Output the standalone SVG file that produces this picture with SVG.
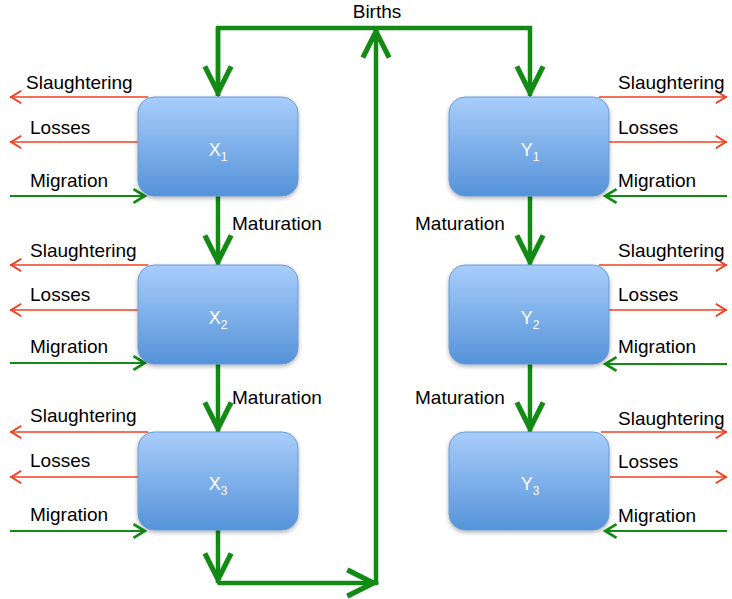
<svg xmlns="http://www.w3.org/2000/svg" width="732" height="599" viewBox="0 0 732 599">
<style>
.lbl{font-family:"Liberation Sans",Arial,sans-serif;font-size:19px;fill:#000}
.box{fill:url(#bg);stroke:#6b9bd3;stroke-width:1;filter:url(#sh)}
.bt{font-family:"Liberation Sans",Arial,sans-serif;font-size:18px;fill:#fff;text-anchor:middle}
.thick{fill:none;stroke:#128a14;stroke-width:4.5}
.red{fill:none;stroke:#f2401f;stroke-width:1.6;marker-end:url(#ar)}
.grn{fill:none;stroke:#128a14;stroke-width:2.2;marker-end:url(#ag)}
</style>
<defs>
<linearGradient id="bg" x1="0" y1="0" x2="0" y2="1">
<stop offset="0" stop-color="#a8cdfb"/>
<stop offset="1" stop-color="#5593d9"/>
</linearGradient>
<filter id="sh" x="-10%" y="-10%" width="120%" height="130%">
<feDropShadow dx="0" dy="2" stdDeviation="2" flood-color="#000" flood-opacity="0.3"/>
</filter>
<marker id="at" markerUnits="userSpaceOnUse" markerWidth="40" markerHeight="40" viewBox="-30 -15 35 30" refX="0" refY="0" orient="auto" overflow="visible">
<path d="M-26,-11.5 L-3,0 L-26,11.5" fill="none" stroke="#128a14" stroke-width="4.5"/>
</marker>
<marker id="ar" markerUnits="userSpaceOnUse" markerWidth="20" markerHeight="20" viewBox="-12 -8 14 16" refX="0" refY="0" orient="auto" overflow="visible">
<path d="M-9,-5 L-1,0 L-9,5" fill="none" stroke="#f2401f" stroke-width="1.6"/>
</marker>
<marker id="ag" markerUnits="userSpaceOnUse" markerWidth="20" markerHeight="20" viewBox="-12 -8 14 16" refX="0" refY="0" orient="auto" overflow="visible">
<path d="M-10,-5.5 L-1,0 L-10,5.5" fill="none" stroke="#128a14" stroke-width="2.2"/>
</marker>
</defs>
<rect width="732" height="599" fill="#fff"/>

<g id="connectors">
<path class="thick" d="M218,96 V28 H530 V96" marker-end="url(#at)"/>
<path class="thick" d="M218,28 V96" marker-end="url(#at)"/>
<path class="thick" d="M218,196 V265" marker-end="url(#at)"/>
<path class="thick" d="M218,364 V432" marker-end="url(#at)"/>
<path class="thick" d="M530,196 V265" marker-end="url(#at)"/>
<path class="thick" d="M530,364 V432" marker-end="url(#at)"/>
<path class="thick" d="M218,530 V583" marker-end="url(#at)"/>
<path class="thick" d="M218,583 H377" marker-end="url(#at)"/>
<path class="thick" d="M376,585 V28" marker-end="url(#at)"/>

<path class="red" d="M148,97 H10"/>
<path class="red" d="M138,142 H10"/>
<path class="grn" d="M10,196 H146"/>
<path class="red" d="M148,265 H10"/>
<path class="red" d="M138,310 H10"/>
<path class="grn" d="M10,363 H146"/>
<path class="red" d="M148,432 H10"/>
<path class="red" d="M138,477 H10"/>
<path class="grn" d="M10,531 H146"/>

<path class="red" d="M599,97 H727"/>
<path class="red" d="M609,142 H727"/>
<path class="grn" d="M727,196 H604"/>
<path class="red" d="M599,265 H727"/>
<path class="red" d="M609,310 H727"/>
<path class="grn" d="M727,364 H604"/>
<path class="red" d="M601,432 H727"/>
<path class="red" d="M610,477 H727"/>
<path class="grn" d="M727,531 H604"/>

<text class="lbl" x="377" y="18" text-anchor="middle">Births</text>
<text class="lbl" x="232" y="230">Maturation</text>
<text class="lbl" x="232" y="404">Maturation</text>
<text class="lbl" x="415" y="230">Maturation</text>
<text class="lbl" x="415" y="404">Maturation</text>

<text class="lbl" x="26" y="89">Slaughtering</text>
<text class="lbl" x="30" y="134">Losses</text>
<text class="lbl" x="30" y="187">Migration</text>
<text class="lbl" x="30" y="257">Slaughtering</text>
<text class="lbl" x="30" y="301">Losses</text>
<text class="lbl" x="30" y="353">Migration</text>
<text class="lbl" x="30" y="422">Slaughtering</text>
<text class="lbl" x="30" y="467">Losses</text>
<text class="lbl" x="30" y="521">Migration</text>

<text class="lbl" x="618" y="89">Slaughtering</text>
<text class="lbl" x="618" y="134">Losses</text>
<text class="lbl" x="618" y="187">Migration</text>
<text class="lbl" x="618" y="257">Slaughtering</text>
<text class="lbl" x="618" y="301">Losses</text>
<text class="lbl" x="618" y="353">Migration</text>
<text class="lbl" x="618" y="425">Slaughtering</text>
<text class="lbl" x="618" y="468">Losses</text>
<text class="lbl" x="618" y="522">Migration</text>
</g>

<g id="X1"><rect class="box" x="138" y="97" width="160" height="99" rx="16"/><text class="bt" x="218" y="156">X<tspan font-size="12" dy="5">1</tspan></text></g>
<g id="X2"><rect class="box" x="138" y="265" width="160" height="99" rx="16"/><text class="bt" x="218" y="324">X<tspan font-size="12" dy="5">2</tspan></text></g>
<g id="X3"><rect class="box" x="138" y="432" width="160" height="98" rx="16"/><text class="bt" x="218" y="490">X<tspan font-size="12" dy="5">3</tspan></text></g>
<g id="Y1"><rect class="box" x="449" y="97" width="160" height="99" rx="16"/><text class="bt" x="530" y="156">Y<tspan font-size="12" dy="5">1</tspan></text></g>
<g id="Y2"><rect class="box" x="449" y="265" width="160" height="99" rx="16"/><text class="bt" x="530" y="324">Y<tspan font-size="12" dy="5">2</tspan></text></g>
<g id="Y3"><rect class="box" x="449" y="432" width="160" height="98" rx="16"/><text class="bt" x="530" y="490">Y<tspan font-size="12" dy="5">3</tspan></text></g>
</svg>
